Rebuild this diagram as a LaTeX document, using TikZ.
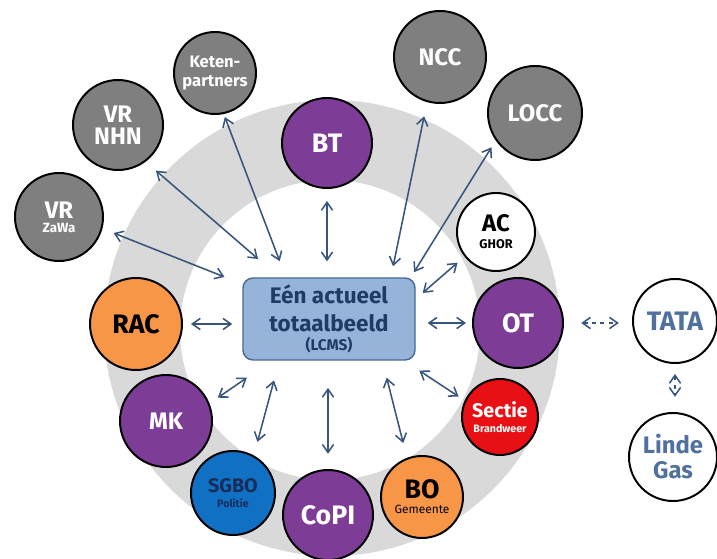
\documentclass[tikz,border=0pt]{standalone}
\usepackage{fontspec}
\setmainfont{Fira Sans}
\usepackage{tikz}
\usetikzlibrary{arrows.meta}
\definecolor{ringgray}{RGB}{217,217,217}
\definecolor{nodegray}{RGB}{127,127,127}
\definecolor{crispurple}{RGB}{125,60,150}
\definecolor{crisorange}{RGB}{247,150,70}
\definecolor{crisred}{RGB}{232,16,20}
\definecolor{crisblue}{RGB}{16,112,196}
\definecolor{navytext}{RGB}{25,45,90}
\definecolor{boxfill}{RGB}{150,180,218}
\definecolor{boxline}{RGB}{70,105,150}
\definecolor{boxtext}{RGB}{30,60,100}
\definecolor{linkblue}{RGB}{55,85,125}
\definecolor{partnertext}{RGB}{80,112,158}
\newcommand{\fbig}{\fontsize{19}{17}\selectfont\bfseries}
\newcommand{\fmid}{\fontsize{17}{15.5}\selectfont\bfseries}
\newcommand{\fcentre}{\fontsize{16}{16}\selectfont\bfseries}
\newcommand{\fsmall}{\fontsize{14}{14}\selectfont\bfseries}
\newcommand{\fketen}{\fontsize{11.8}{13}\selectfont\bfseries}
\newcommand{\flcms}{\fontsize{11}{12}\selectfont\bfseries}
\newcommand{\fmini}{\fontsize{9.5}{10}\selectfont\bfseries}
\newcommand{\fghor}{\fontsize{9}{10}\selectfont\bfseries}
\newcommand{\ftiny}{\fontsize{7.6}{8}\selectfont\bfseries}
\tikzstyle{graynode} = [circle, draw=black, line width=1.4pt, fill=nodegray, text=white, inner sep=0pt, align=center]
\tikzstyle{purplenode} = [circle, draw=black, line width=1.4pt, fill=crispurple, text=white, inner sep=0pt, align=center]
\tikzstyle{orangenode} = [circle, draw=black, line width=1.4pt, fill=crisorange, text=black, inner sep=0pt, align=center]
\tikzstyle{whitenode} = [circle, draw=black, line width=1.4pt, fill=white, text=black, inner sep=0pt, align=center]
\tikzstyle{centre} = [rectangle, rounded corners=0.25cm, draw=boxline, line width=1pt, fill=boxfill, text=boxtext, minimum width=4.3cm, minimum height=2.05cm, align=center]
\tikzstyle{link} = [line width=1.1pt, draw=linkblue, <->, >={Straight Barb[length=2mm,width=2.8mm]}]
\tikzstyle{dashlink} = [link, dash pattern=on 3pt off 3pt]

\begin{document}
\begin{tikzpicture}
    \useasboundingbox (-8.25,8.25) rectangle (9.675,-5.725);
    \fill [ringgray, even odd rule] (0.05,0.05) circle (5.7) (0,0) circle (3.75);

    \node (lcms) [centre, font=\fcentre] at (-0.025,0.275) {Eén actueel\\[4pt] totaalbeeld\\[-2.5pt] {\flcms (LCMS)}};
    \node (keten) [graynode, font=\fketen, minimum size=2.05cm] at (-2.875,6.425) {Keten-\\ partners};
    \node (vr_nhn) [graynode, font=\fmid, minimum size=2.25cm] at (-5.3,5.125) {VR\\ NHN};
    \node (vr_zawa) [graynode, font=\fmid, minimum size=2.2cm] at (-6.775,2.825) {VR\\[-5.5pt] {\fmini ZaWa}};
    \node (bt) [purplenode, font=\fbig, minimum size=2.25cm] at (-0.075,4.675) {BT};
    \node (ncc) [graynode, font=\fmid, minimum size=2.3cm] at (2.75,6.825) {NCC};
    \node (locc) [graynode, font=\fmid, minimum size=2.35cm] at (5.125,5.425) {LOCC};
    \node (ac) [whitenode, font=\fmid, minimum size=1.95cm] at (4.15,2.45) {AC\\[-3.5pt] {\fghor GHOR}};
    \node (ot) [purplenode, font=\fbig, minimum size=2.25cm] at (4.7,0.175) {OT};
    \node (tata) [whitenode, font=\fbig, minimum size=2.1cm, text=partnertext] at (8.625,0.225) {TATA};
    \node (linde) [whitenode, font=\fmid, minimum size=2.2cm, text=partnertext] at (8.575,-3.175) {Linde\\[2.3pt] Gas};
    \node (sectie) [circle, draw=black, line width=1.4pt, fill=crisred, text=white, inner sep=0pt, align=center, font=\fsmall, minimum size=1.9cm] at (4.25,-2.175) {Sectie\\[-3.3pt] {\ftiny Brandweer}};
    \node (bo) [orangenode, font=\fbig, minimum size=2.05cm] at (2.3,-4.175) {BO\\[-6.3pt] {\fontsize{8.5}{9}\selectfont\mdseries Gemeente}};
    \node (copi) [purplenode, font=\fbig, minimum size=2.25cm] at (-0.05,-4.625) {CoPI};
    \node (sgbo) [circle, draw=black, line width=1.4pt, fill=crisblue, text=navytext, inner sep=0pt, align=center, font=\fsmall, minimum size=2.1cm] at (-2.425,-4.075) {SGBO\\[-3.3pt] {\ftiny Politie}};
    \node (mk) [purplenode, font=\fmid, minimum size=2.3cm] at (-4.1,-2.275) {MK};
    \node (rac) [orangenode, font=\fbig, minimum size=2.3cm] at (-4.85,0.15) {RAC};

    \draw [link, shorten <=0.3cm, shorten >=0.48cm] (vr_zawa.-15) -- (lcms.158);
    \draw [link, shorten <=0.34cm, shorten >=0.7cm] (vr_nhn.-53) -- (lcms.140);
    \draw [link, shorten <=0.08cm, shorten >=0.43cm] (keten.-78) -- (lcms.136);
    \draw [link, shorten <=0.3cm, shorten >=0.4cm] (bt.south) -- (bt.south |- lcms.north);
    \draw [link, shorten <=0.36cm, shorten >=0.28cm] (ncc.-106) -- (lcms.34);
    \draw [link, shorten <=0.2cm, shorten >=0.15cm] (locc.-145) -- (lcms.27);
    \draw [link, shorten <=0.23cm, shorten >=0.23cm] (ac.-142) -- (lcms.13);
    \draw [link, shorten <=0.15cm, shorten >=0.3cm] (ot.west) -- (ot.west -| lcms.east);
    \draw [link, shorten <=0.2cm, shorten >=0.25cm] (rac.east) -- (rac.east -| lcms.west);
    \draw [link, shorten <=0.18cm, shorten >=0.45cm] (sectie.155) -- (lcms.-29);
    \draw [link, shorten <=0.38cm, shorten >=0.44cm] (bo.111) -- (lcms.-38);
    \draw [link, shorten <=0.38cm, shorten >=0.68cm] (copi.north) -- (copi.north |- lcms.south);
    \draw [link, shorten <=0.35cm, shorten >=0.51cm] (sgbo.61) -- (lcms.-140);
    \draw [link, shorten <=0.25cm, shorten >=0.75cm] (mk.22) -- (lcms.-144);
    \draw [dashlink, shorten <=0.43cm, shorten >=0.33cm] (ot.east) -- (ot.east -| tata.west);
    \draw [dashlink, shorten <=0.25cm, shorten >=0.38cm] (tata.south) -- (tata.south |- linde.north);
\end{tikzpicture}
\end{document}
